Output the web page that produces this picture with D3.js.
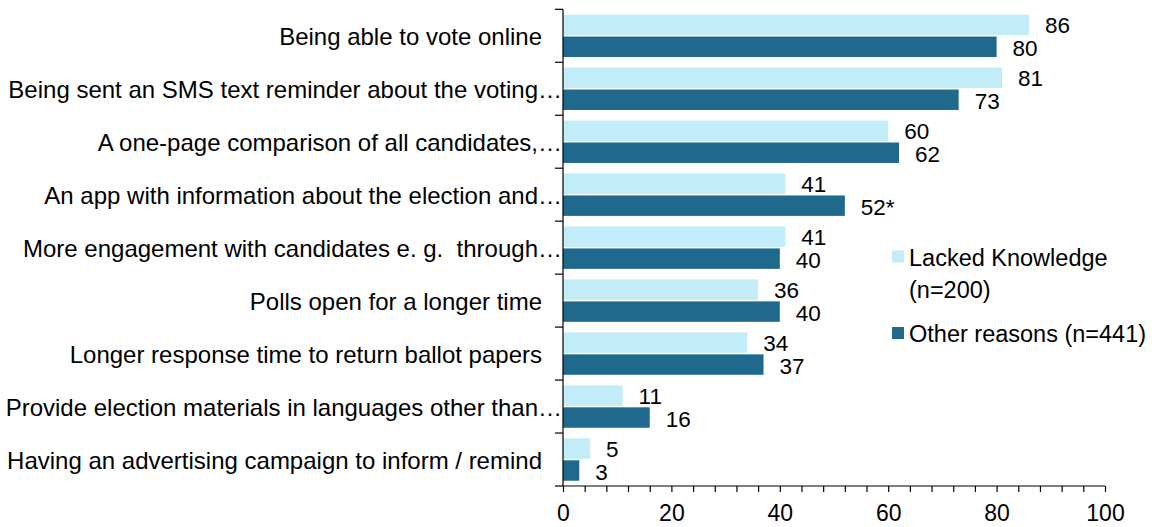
<!DOCTYPE html>
<html>
<head>
<meta charset="utf-8">
<script src="https://cdn.jsdelivr.net/npm/d3@7"></script>
<style>
  html, body { margin: 0; padding: 0; background: #fff; }
  svg { display: block; font-family: "Liberation Sans", Arial, sans-serif; }
</style>
</head>
<body>
<svg id="chart" width="1156" height="527"></svg>
<script>
const categories = [
  "Being able to vote online",
  "Being sent an SMS text reminder about the voting…",
  "A one-page comparison of all candidates,…",
  "An app with information about the election and…",
  "More engagement with candidates e. g.  through…",
  "Polls open for a longer time",
  "Longer response time to return ballot papers",
  "Provide election materials in languages other than…",
  "Having an advertising campaign to inform / remind"
];
const seriesNames = ["Lacked Knowledge (n=200)", "Other reasons (n=441)"];
const lackedKnowledge = [86, 81, 60, 41, 41, 36, 34, 11, 5];
const otherReasons = [80, 73, 62, 52, 40, 40, 37, 16, 3];
const otherReasonsLabels = ["80", "73", "62", "52*", "40", "40", "37", "16", "3"];
const lackedLabels = lackedKnowledge.map(String);
const xTickValues = [0, 20, 40, 60, 80, 100];

const colors = ["#c2ecf8", "#1f698c"];

const svg = d3.select("#chart");
const x = d3.scaleLinear().domain([0, 100]).range([563, 1105]);
const y = d3.scaleBand().domain(categories).range([9.3, 486]).paddingInner(0).paddingOuter(0);
const inner = d3.scaleBand().domain([0, 1]).range([0, y.bandwidth()]).paddingInner(0.07).paddingOuter(0.24);

const rows = categories.map((c, i) => ({
  cat: c,
  vals: [
    { s: 0, v: lackedKnowledge[i], label: lackedLabels[i] },
    { s: 1, v: otherReasons[i], label: otherReasonsLabels[i] }
  ]
}));

const g = svg.append("g");
const groups = g.selectAll("g.row").data(rows).join("g")
  .attr("transform", d => `translate(0,${y(d.cat)})`);

groups.selectAll("rect").data(d => d.vals).join("rect")
  .attr("x", x(0))
  .attr("y", d => inner(d.s))
  .attr("width", d => x(d.v) - x(0))
  .attr("height", inner.bandwidth())
  .attr("fill", d => colors[d.s]);

groups.selectAll("text.val").data(d => d.vals).join("text")
  .attr("class", "val")
  .attr("x", d => x(d.v) + 16)
  .attr("y", d => inner(d.s) + inner.bandwidth() / 2 + (d.s === 0 ? 0.5 : 2))
  .attr("dominant-baseline", "central")
  .attr("font-size", 22.5)
  .attr("fill", "#000")
  .text(d => d.label);

// Category labels
g.selectAll("text.cat").data(categories).join("text")
  .attr("class", "cat")
  .attr("x", d => d.endsWith("…") ? x(0) - 1 : x(0) - 21)
  .attr("y", d => y(d) + y.bandwidth() / 2 + 1)
  .attr("text-anchor", "end")
  .attr("dominant-baseline", "central")
  .attr("font-size", 24)
  .attr("fill", "#000")
  .style("white-space", "pre")
  .text(d => d);

// Y axis line + ticks at band boundaries
const yBounds = categories.map(c => y(c)).concat([y.range()[1]]);
g.append("line")
  .attr("x1", x(0)).attr("x2", x(0))
  .attr("y1", y.range()[0]).attr("y2", y.range()[1])
  .attr("stroke", "#000").attr("stroke-width", 1.2);
g.selectAll("line.ytick").data(yBounds).join("line")
  .attr("class", "ytick")
  .attr("x1", x(0) - 8).attr("x2", x(0))
  .attr("y1", d => d).attr("y2", d => d)
  .attr("stroke", "#000").attr("stroke-width", 1.2);

// X axis
const xAxis = d3.axisBottom(x)
  .tickValues(d3.range(0, 101, 4))
  .tickSize(6)
  .tickFormat(d => xTickValues.includes(d) ? d : "");
const xg = g.append("g").attr("transform", `translate(0,${y.range()[1]})`).call(xAxis);
xg.select(".domain").attr("stroke", "#000").attr("stroke-width", 1.2).attr("d", `M${x(0)},0H${x(100)}`);
xg.selectAll(".tick line").attr("stroke", "#000").attr("stroke-width", 1.2);
xg.selectAll(".tick text")
  .attr("font-size", 23)
  .attr("font-family", "Liberation Sans, Arial, sans-serif")
  .attr("fill", "#000")
  .attr("y", 19)
  .attr("dy", "0.71em");

// Legend
const legend = svg.append("g");
const legendItems = [
  { s: 0, lines: ["Lacked Knowledge", "(n=200)"], y: 256.5 },
  { s: 1, lines: ["Other reasons (n=441)"], y: 333 }
];
legendItems.forEach(it => {
  legend.append("rect")
    .attr("x", 892).attr("y", it.y - 6)
    .attr("width", 12).attr("height", 12)
    .attr("fill", colors[it.s]);
  it.lines.forEach((ln, k) => {
    legend.append("text")
      .attr("x", 909).attr("y", it.y + k * 32 + 1)
      .attr("dominant-baseline", "central")
      .attr("font-size", 23.5)
      .attr("fill", "#000")
      .text(ln);
  });
});
</script>
</body>
</html>
